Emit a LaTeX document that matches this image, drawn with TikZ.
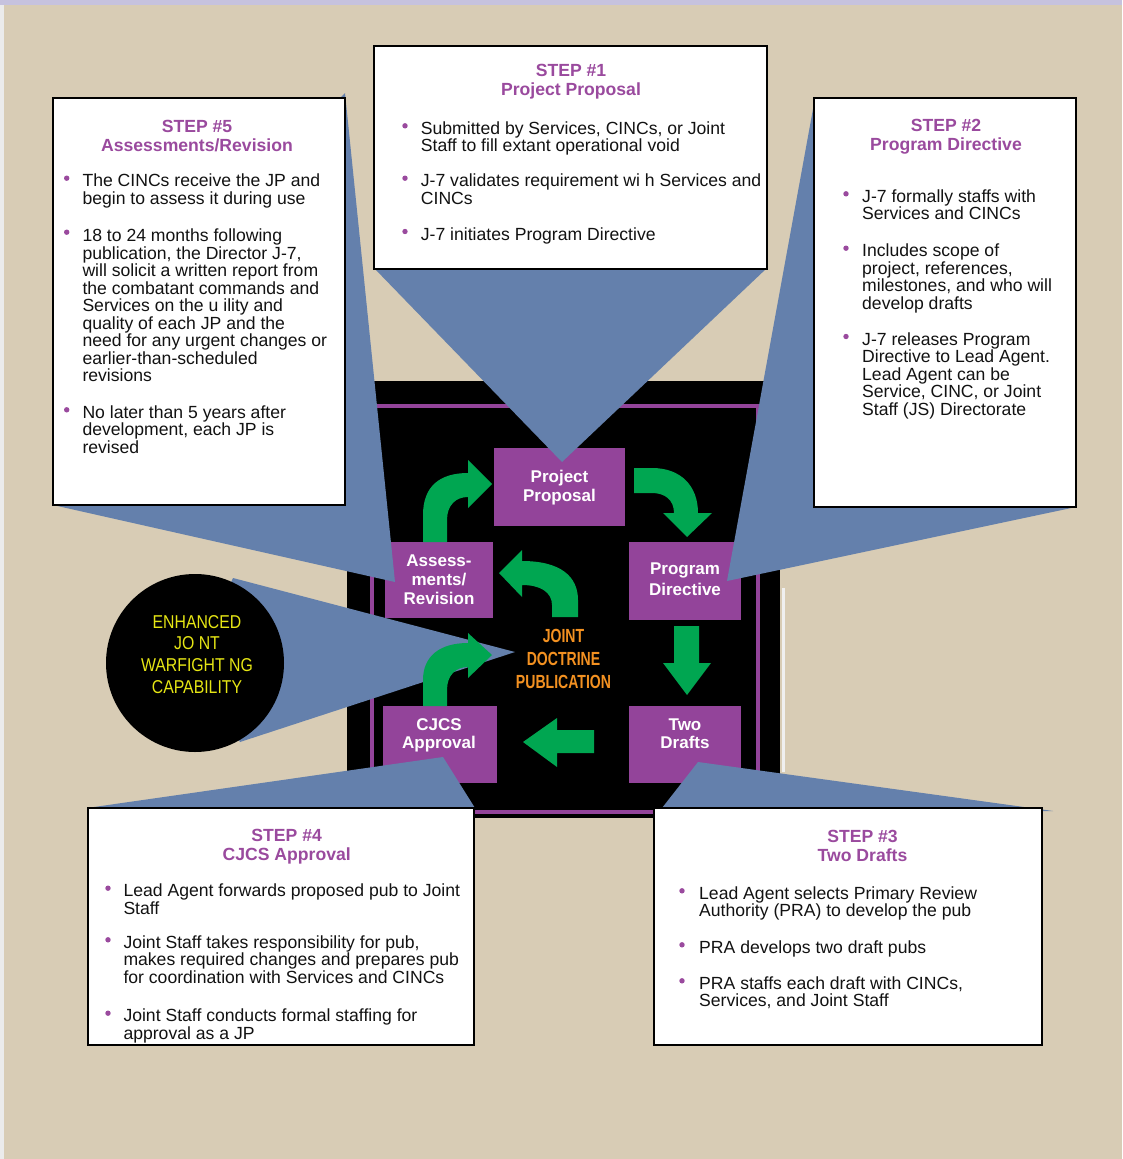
\documentclass[tikz,border=0pt]{standalone}
\usepackage{fontspec}
\setmainfont{Liberation Sans}
\newfontfamily\ofont[FakeStretch=0.74]{Liberation Sans}
\newfontfamily\yfont[FakeStretch=0.85]{Liberation Sans}
\definecolor{tan}{HTML}{D8CCB5}
\definecolor{lav}{HTML}{C6C2DE}
\definecolor{wedgeblue}{HTML}{6480AC}
\definecolor{boxpurple}{HTML}{93449A}
\definecolor{headpurple}{HTML}{9A4A9E}
\definecolor{arrgreen}{HTML}{00A651}
\definecolor{jorange}{HTML}{F39121}
\definecolor{jyellow}{HTML}{E6E614}
% name, dot x, text x, first baseline, last baseline, text
\newcommand\bitem[6]{\fill[headpurple] (#2,#4-8.5) circle (2.7pt);
  \node[body] (#1) at (#3,#5) {#6};}
\tikzset{
  body/.style={font=\fontsize{17.6}{17.5}\selectfont, align=left, anchor=base west, inner sep=0pt, text=black!93},
  head/.style={font=\bfseries\fontsize{17.6}{19}\selectfont, text=headpurple, align=center, anchor=base, inner sep=0pt},
  infobox/.style={draw=black, line width=2.5pt, fill=white},
  pbox/.style={fill=boxpurple},
  ptxt/.style={font=\bfseries\fontsize{17}{19}\selectfont, text=white, align=center, anchor=base, inner sep=0pt},
  wedge/.style={fill=wedgeblue},
  garrow/.style={fill=arrgreen},
}
\begin{document}
\begin{tikzpicture}[x=1pt,y=-1pt]
\useasboundingbox (0,0) rectangle (1122,1159);
% background
\fill[tan] (0,0) rectangle (1122,1159);
\fill[lav] (0,0) rectangle (1122,5);
\fill[black!8] (0,5) rectangle (4,1159);
% black square and purple frame
\fill[black] (347,381) rectangle (780,818);
\draw[boxpurple, line width=4pt] (372,406) rectangle (758,812);
\draw[black!6, line width=3pt] (783,588) -- (783,772);
% purple step boxes
\path[pbox] (494,448) rectangle (625,526) coordinate[pos=0.5] (pp);
\path[pbox] (629,542) rectangle (741,620) coordinate[pos=0.5] (pd);
\path[pbox] (629,706) rectangle (741,783) coordinate[pos=0.5] (td);
\path[pbox] (383,706) rectangle (497,783) coordinate[pos=0.5] (cj);
\path[pbox] (385,542) rectangle (493,618) coordinate[pos=0.5] (ar);
% callout wedges
\fill[wedge] (374,268) -- (562,462) -- (767,268) -- cycle;
\fill[wedge] (815,98) -- (727,581) -- (1076,507) -- (1076,100) -- cycle;
\fill[wedge] (345,93) -- (395,582) -- (53,505) -- (60,480) -- (338,100) -- cycle;
\fill[wedge] (195,663) -- (233,578) -- (515,652) -- (240,742) -- cycle;
\fill[wedge] (87,808) -- (443,757) -- (475,808) -- cycle;
\fill[wedge] (662,808) -- (698,762) -- (1053,811) -- (1042,811) -- cycle;
% circle
\node[circle, fill=black, minimum size=178pt, inner sep=0pt] (cap) at (195,663) {};
\node[font=\yfont\fontsize{18.6}{21.6}\selectfont, text=jyellow, align=center, anchor=base, inner sep=0pt] (capt) at (197,693) {ENHANCED\\JO NT\\WARFIGHT NG\\CAPABILITY};
% green arrows
\fill[garrow] (423,542) -- (423,515) .. controls (423,486) and (440,473) .. (468,473) -- (468,460) -- (492,484) -- (468,508) -- (468,497) .. controls (456,497) and (447,505) .. (447,520) -- (447,542) -- cycle;
\fill[garrow] (634,468) -- (652,468) .. controls (681,468) and (698,486) .. (698,513) -- (712,513) -- (687,537) -- (663,513) -- (674,513) .. controls (674,500) and (665,493) .. (652,493) -- (634,493) -- cycle;
\fill[garrow] (674,626) -- (699,626) -- (699,663) -- (711,663) -- (687,695) -- (663,663) -- (674,663) -- cycle;
\fill[garrow] (594,730) -- (594,753) -- (557,753) -- (557,767) -- (523,742) -- (557,718) -- (557,730) -- cycle;
\fill[garrow] (423,706) -- (423,680) .. controls (423,656) and (440,643) .. (468,643) -- (468,633) -- (492,655) -- (468,678) -- (468,667) .. controls (456,667) and (447,675) .. (447,690) -- (447,706) -- cycle;
\fill[garrow] (578,617) -- (578,600) .. controls (578,576) and (560,561) .. (522,561) -- (522,550) -- (499,573) -- (522,597) -- (522,585) .. controls (540,585) and (552,592) .. (552,605) -- (552,617) -- cycle;
% purple box labels (anchored at last baseline)
\node[ptxt] (ppt) at (559.5,501) {Project\\Proposal};
\node[ptxt] (art) at (439,604) {Assess-\\ments/\\Revision};
\node[ptxt, font=\bfseries\fontsize{17}{21}\selectfont] (pdt) at (685,595) {Program\\Directive};
\node[ptxt, font=\bfseries\fontsize{17}{17.5}\selectfont] (tdt) at (685,748.3) {Two\\Drafts};
\node[ptxt, font=\bfseries\fontsize{17}{17.5}\selectfont] (cjt) at (439,748) {CJCS\\Approval};
\node[font=\ofont\bfseries\fontsize{19}{22.6}\selectfont, text=jorange, align=center, anchor=base, inner sep=0pt] (jdp) at (563.5,688) {JOINT\\DOCTRINE\\PUBLICATION};
% STEP 1
\path[infobox] (374,46) rectangle (767,269);
\node[head] (h1) at (571,95) {STEP \#1\\Project Proposal};
\bitem{s1a}{405}{420.7}{134.3}{151.8}{Submitted by Services, CINCs, or Joint\\Staff to fill extant operational void}
\bitem{s1b}{405}{420.7}{186.7}{204.2}{J-7 validates requirement wi h Services and\\CINCs}
\bitem{s1c}{405}{420.7}{240}{240}{J-7 initiates Program Directive}
% STEP 2
\path[infobox] (814,98) rectangle (1076,507);
\node[head] (h2) at (946,150) {STEP \#2\\Program Directive};
\bitem{s2a}{846}{862}{202.3}{219.8}{J-7 formally staffs with\\Services and CINCs}
\bitem{s2b}{846}{862}{256.7}{309.2}{Includes scope of\\project, references,\\milestones, and who will\\develop drafts}
\bitem{s2c}{846}{862}{345}{415}{J-7 releases Program\\Directive to Lead Agent.\\Lead Agent can be\\Service, CINC, or Joint\\Staff (JS) Directorate}
% STEP 5
\path[infobox] (53,98) rectangle (345,505);
\node[head] (h5) at (197,151) {STEP \#5\\Assessments/Revision};
\bitem{s5a}{66.7}{82.3}{186.7}{204.2}{The CINCs receive the JP and\\begin to assess it during use}
\bitem{s5b}{66.7}{82.3}{240.7}{381.5}{18 to 24 months following\\publication, the Director J-7,\\will solicit a written report from\\the combatant commands and\\Services on the u ility and\\quality of each JP and the\\need for any urgent changes or\\earlier-than-scheduled\\revisions}
\bitem{s5c}{66.7}{82.3}{418.3}{453.3}{No later than 5 years after\\development, each JP is\\revised}
% STEP 4
\path[infobox] (88,808) rectangle (474,1045);
\node[head] (h4) at (286.7,860.7) {STEP \#4\\CJCS Approval};
\bitem{s4a}{108}{123.3}{896.7}{914.2}{Lead Agent forwards proposed pub to Joint\\Staff}
\bitem{s4b}{108}{123.3}{948.3}{983.3}{Joint Staff takes responsibility for pub,\\makes required changes and prepares pub\\for coordination with Services and CINCs}
\bitem{s4c}{108}{123.3}{1021.7}{1039.2}{Joint Staff conducts formal staffing for\\approval as a JP}
% STEP 3
\path[infobox] (654,808) rectangle (1042,1045);
\node[head] (h3) at (862.5,861) {STEP \#3\\Two Drafts};
\bitem{s3a}{682}{699}{899.3}{916.8}{Lead Agent selects Primary Review\\Authority (PRA) to develop the pub}
\bitem{s3b}{682}{699}{953.3}{953.3}{PRA develops two draft pubs}
\bitem{s3c}{682}{699}{989.3}{1006.8}{PRA staffs each draft with CINCs,\\Services, and Joint Staff}
\end{tikzpicture}
\end{document}
